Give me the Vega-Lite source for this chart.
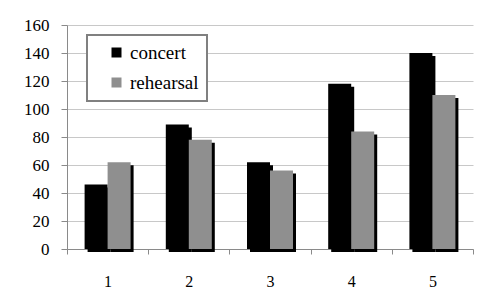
{
  "$schema": "https://vega.github.io/schema/vega-lite/v6.json",
  "width": 406,
  "height": 224,
  "autosize": {"type": "none"},
  "padding": {"left": 67, "top": 25, "right": 5, "bottom": 44},
  "background": "white",
  "data": {
    "values": [
      {"session": "1", "concert": 46, "rehearsal": 62},
      {"session": "2", "concert": 89, "rehearsal": 78},
      {"session": "3", "concert": 62, "rehearsal": 56},
      {"session": "4", "concert": 118, "rehearsal": 84},
      {"session": "5", "concert": 140, "rehearsal": 110}
    ]
  },
  "encoding": {
    "x": {
      "field": "session",
      "type": "ordinal",
      "scale": {"paddingInner": 0, "paddingOuter": 0},
      "axis": {
        "title": null,
        "labelAngle": 0,
        "tickBand": "extent",
        "tickSize": 5,
        "labelPadding": 19,
        "grid": false
      }
    }
  },
  "layer": [
    {
      "mark": {"type": "bar", "width": 23, "xOffset": -8.5, "yOffset": 3, "color": "#000000"},
      "encoding": {
        "y": {
          "field": "concert",
          "type": "quantitative",
          "scale": {"domain": [0, 160], "nice": false},
          "axis": {"title": null, "values": [0, 20, 40, 60, 80, 100, 120, 140, 160]}
        }
      }
    },
    {
      "mark": {"type": "bar", "width": 23, "xOffset": -11.5},
      "encoding": {
        "y": {
          "field": "concert",
          "type": "quantitative",
          "axis": {"title": null, "values": [0, 20, 40, 60, 80, 100, 120, 140, 160]}
        },
        "color": {
          "datum": "concert",
          "type": "nominal",
          "scale": {"domain": ["concert", "rehearsal"], "range": ["#000000", "#8f8f8f"]},
          "legend": {
            "title": null,
            "orient": "none",
            "legendX": 20,
            "legendY": 10,
            "symbolType": "square",
            "symbolSize": 100,
            "symbolStrokeWidth": 0,
            "symbolOpacity": 1,
            "labelFont": "Liberation Serif, serif",
            "labelFontSize": 19,
            "labelColor": "#000000",
            "labelOffset": 4,
            "rowPadding": 10,
            "padding": 8,
            "symbolOffset": 12,
            "strokeColor": "#808080",
            "fillColor": "#ffffff"
          }
        }
      }
    },
    {
      "mark": {"type": "bar", "width": 23, "xOffset": 14.5, "yOffset": 3, "color": "#000000"},
      "encoding": {
        "y": {
          "field": "rehearsal",
          "type": "quantitative",
          "axis": {"title": null, "values": [0, 20, 40, 60, 80, 100, 120, 140, 160]}
        }
      }
    },
    {
      "mark": {"type": "bar", "width": 23, "xOffset": 11.5},
      "encoding": {
        "y": {
          "field": "rehearsal",
          "type": "quantitative",
          "axis": {"title": null, "values": [0, 20, 40, 60, 80, 100, 120, 140, 160]}
        },
        "color": {"datum": "rehearsal", "type": "nominal"}
      }
    }
  ],
  "config": {
    "view": {"stroke": null},
    "legend": {"strokeWidth": 2},
    "axis": {
      "domainColor": "#8a8a8a",
      "tickColor": "#8a8a8a",
      "gridColor": "#c8c8c8",
      "domainWidth": 1,
      "tickWidth": 1,
      "gridWidth": 1,
      "labelFont": "Liberation Serif, serif",
      "labelColor": "#000000"
    },
    "axisX": {"labelFontSize": 16},
    "axisY": {
      "labelFontSize": 17,
      "labelPadding": 12,
      "tickSize": 6,
      "grid": true,
      "labelOverlap": false
    }
  }
}
